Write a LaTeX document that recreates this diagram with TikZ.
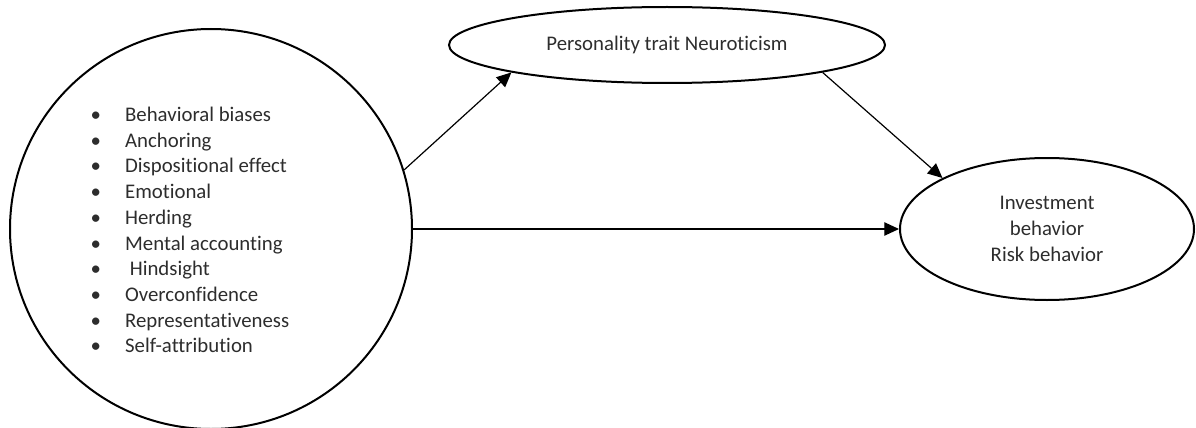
\documentclass[tikz,border=0pt]{standalone}
\usepackage{fontspec}
\setmainfont[Ligatures=NoCommon]{Carlito}
\usetikzlibrary{shapes.geometric,arrows.meta}
\definecolor{txtgray}{RGB}{45,45,45}
\tikzset{every picture/.style={line width=0.75pt}}
\tikzset{
  oval/.style={draw, ellipse, line width=1.5pt, inner sep=0pt},
  link/.style={-{Triangle[length=11pt,width=10pt]}, line width=0.9pt},
  lbl/.style={text=txtgray, font=\fontsize{15.6}{19.3}\selectfont}
}
\newcommand{\bul}[1]{\makebox[26pt][l]{•}#1}

\begin{document}
\begin{tikzpicture}[x=0.75pt,y=0.75pt,yscale=-1,xscale=1]
\useasboundingbox (0,0) rectangle (1196,428);

%Shape: Circle [biases]
\node [oval, minimum width=301.5pt, minimum height=300pt] (biases) at (211,229) {};
%Shape: Ellipse [neuro]
\node [oval, minimum width=327pt, minimum height=57pt, lbl] (neuro) at (667,45) {Personality trait Neuroticism};
%Shape: Ellipse [invest]
\node [oval, minimum width=220.5pt, minimum height=106.5pt, lbl, align=center] (invest) at (1047,229) {Investment\\behavior\\Risk behavior};

% Text Node
\node [anchor=west, lbl, align=left, inner sep=0pt] (biaslist) at (90,230) {\bul{Behavioral biases}\\
\bul{Anchoring}\\
\bul{Dispositional effect}\\
\bul{Emotional}\\
\bul{Herding}\\
\bul{Mental accounting}\\
\bul{\ Hindsight}\\
\bul{Overconfidence}\\
\bul{Representativeness}\\
\bul{Self-attribution}};

%Straight Lines
\draw [link] (biases.17.5) -- (neuro.190);
%Straight Lines
\draw [link] (neuro.350) -- (invest.154);
%Straight Lines
\draw [link] (biases.east) -- (invest.west);

\end{tikzpicture}
\end{document}
